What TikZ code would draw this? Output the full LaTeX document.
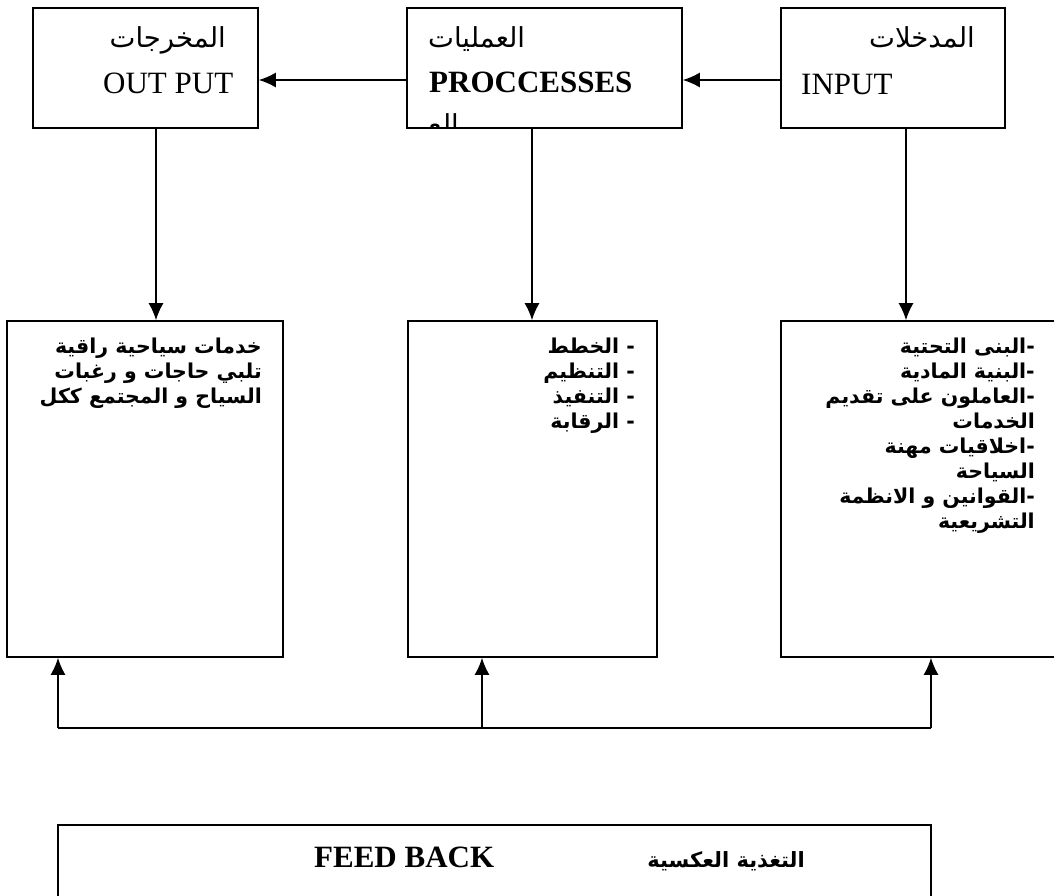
\documentclass[tikz,border=0pt]{standalone}
\usepackage{fontspec}
\setmainfont{Liberation Serif}
\newfontfamily\arabicfont[Script=Arabic]{DejaVu Sans}
\TeXXeTstate=1
\usetikzlibrary{arrows.meta}
\begin{document}
\begin{tikzpicture}[x=1pt,y=-1pt,
  box/.style={draw,line width=1.6pt,inner sep=0pt,minimum height=#1},
  box/.default=120pt,
  arr/.style={line width=1.6pt,-{Latex[length=17pt,width=15pt]}},
  link/.style={line width=1.6pt},
  lat/.style={inner sep=0pt,font=\fontsize{31}{36}\selectfont},
  latb/.style={inner sep=0pt,font=\fontsize{31}{36}\selectfont\bfseries},
  arb/.style={inner sep=0pt,font=\arabicfont\fontsize{27.5}{32}\selectfont},
  arbb/.style={inner sep=0pt,font=\arabicfont\bfseries\fontsize{21}{28}\selectfont},
  arlist/.style={inner sep=0pt,align=right,font=\arabicfont\bfseries\fontsize{20.5}{25}\selectfont},
]
\useasboundingbox (0,0) rectangle (1054,895);
\clip (0,0) rectangle (1054,895);

% top row: output, processes, input
\node[box,minimum width=225pt] (out)  at (145.5,68) {};
\node[box,minimum width=275pt] (proc) at (544.5,68) {};
\node[box,minimum width=224pt] (inp)  at (893,68) {};

% lower row: contents of each stage
\node[box=336pt,minimum width=276pt] (res) at (145,489) {};
\node[box=336pt,minimum width=249pt] (mid) at (532.5,489) {};
\node[box=336pt,minimum width=279pt] (rgt) at (920.5,489) {};

% feedback box
\node[box=80pt,minimum width=873pt] (fb) at (494.5,865) {};

% labels of the top row
\node[arb,anchor=base east] (outar) at (226,47) {\beginR المخرجات\endR};
\node[lat,anchor=base west] (outen) at (103,93) {OUT PUT};
\node[arb,anchor=base west] (procar) at (428,47) {\beginR العمليات\endR};
\node[latb,anchor=base west] (procen) at (429,92) {PROCCESSES};
\node[arb,anchor=base east] (inpar) at (975,47) {\beginR المدخلات\endR};
\node[lat,anchor=base west] (inpen) at (801,94) {INPUT};
\begin{scope}
  \clip (408,9) rectangle (681,127);
  \node[arb,anchor=base west] (proccut) at (428,134) {\beginR الع\endR};
\end{scope}

% lists in the lower row
\node[arlist,anchor=north east] (restext) at (262,338) {%
  \beginR خدمات سياحية راقية\endR\\
  \beginR تلبي حاجات و رغبات\endR\\
  \beginR السياح و المجتمع ككل\endR};
\node[arlist,anchor=north east] (midtext) at (635,338) {%
  \beginR - الخطط\endR\\
  \beginR - التنظيم\endR\\
  \beginR - التنفيذ\endR\\
  \beginR - الرقابة\endR};
\node[arlist,anchor=north east] (rgttext) at (1035,338) {%
  \beginR -البنى التحتية\endR\\
  \beginR -البنية المادية\endR\\
  \beginR -العاملون على تقديم\endR\\
  \beginR الخدمات\endR\\
  \beginR -اخلاقيات مهنة\endR\\
  \beginR السياحة\endR\\
  \beginR -القوانين و الانظمة\endR\\
  \beginR التشريعية\endR};

% feedback labels
\node[latb,anchor=base west] (fben) at (314,867) {FEED BACK};
\node[arbb,anchor=base east] (fbar) at (805,867) {\beginR التغذية العكسية\endR};

% flow along the top row
\draw[arr] ([yshift=-12pt]inp.west) -- ([yshift=-12pt]proc.east);
\draw[arr] ([yshift=-12pt]proc.west) -- ([yshift=-12pt]out.west -| out.east);

% each stage down to its contents
\draw[arr] ([xshift=10.5pt]out.south) -- ([xshift=10.5pt]out.south |- res.north);
\draw[arr] ([xshift=-12.5pt]proc.south) -- ([xshift=-12.5pt]proc.south |- mid.north);
\draw[arr] ([xshift=13pt]inp.south) -- ([xshift=13pt]inp.south |- rgt.north);

% feedback loop under the lower row
\coordinate (fbL) at (58,728);
\coordinate (fbM) at (482,728);
\coordinate (fbR) at (931,728);
\draw[link] (fbL) -- (fbR);
\draw[arr] (fbL) -- (fbL |- res.south);
\draw[arr] (fbM) -- (fbM |- mid.south);
\draw[arr] (fbR) -- (fbR |- rgt.south);
\end{tikzpicture}
\end{document}
